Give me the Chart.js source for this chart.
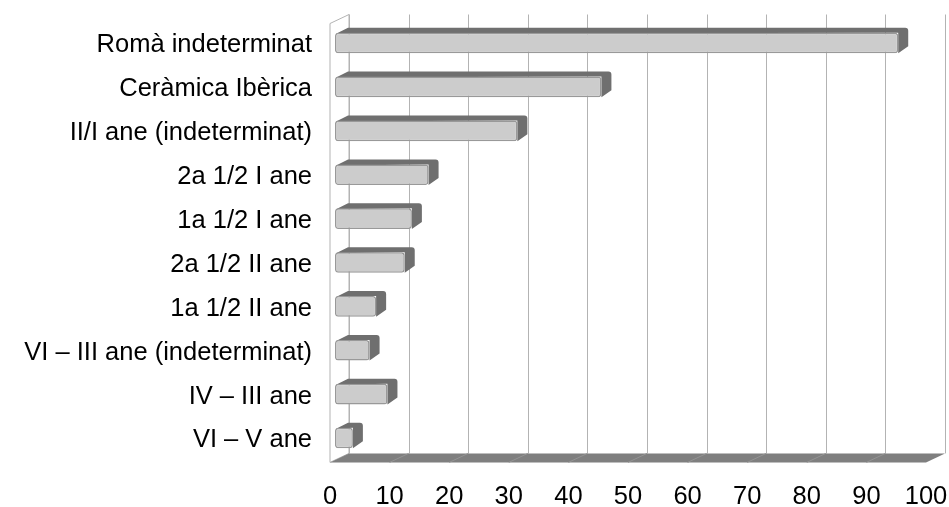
<!DOCTYPE html>
<html>
<head>
<meta charset="utf-8">
<script src="https://cdn.jsdelivr.net/npm/chart.js@4"></script>
<style>
  html, body { margin: 0; padding: 0; background: #ffffff; }
  #wrap { width: 949px; height: 507px; }
</style>
</head>
<body>
<div id="wrap"><canvas id="grafic" width="949" height="507"></canvas></div>
<script>
const categories = [
    'Romà indeterminat',
    'Ceràmica Ibèrica',
    'II/I ane (indeterminat)',
    '2a 1/2 I ane',
    '1a 1/2 I ane',
    '2a 1/2 II ane',
    '1a 1/2 II ane',
    'VI – III ane (indeterminat)',
    'IV – III ane',
    'VI – V ane'
];
const values = [94.5, 44.7, 30.6, 15.7, 12.9, 11.7, 6.9, 5.8, 8.8, 3.0];
const axisMin = 0;
const axisMax = 100;
const axisStep = 10;

// profunditat del pseudo 3D
const depthX = 19, depthY = -9;     // paret del fons respecte del pla frontal
const barFront = [5, -2.4];         // cara frontal de la barra
const barDepth = [10, -5];          // gruix de la barra

const pseudo3d = {
    id: 'pseudo3d',
    beforeDatasetsDraw(chart) {
        const ctx = chart.ctx;
        const a = chart.chartArea;
        const xs = chart.scales.x;
        ctx.save();

        // paret esquerra
        ctx.beginPath();
        ctx.moveTo(a.left, a.bottom);
        ctx.lineTo(a.left, a.top);
        ctx.lineTo(a.left + depthX, a.top + depthY);
        ctx.lineTo(a.left + depthX, a.bottom + depthY);
        ctx.closePath();
        ctx.fillStyle = '#ffffff';
        ctx.fill();
        ctx.strokeStyle = '#b3b3b3';
        ctx.lineWidth = 1;
        ctx.stroke();

        // graella al fons
        for (let v = axisMin; v <= axisMax; v += axisStep) {
            const px = Math.round(xs.getPixelForValue(v) + depthX) + 0.5;
            ctx.beginPath();
            ctx.moveTo(px, a.top + depthY);
            ctx.lineTo(px, a.bottom + depthY);
            ctx.strokeStyle = '#b3b3b3';
            ctx.stroke();
        }

        // terra
        ctx.beginPath();
        ctx.moveTo(a.left, a.bottom);
        ctx.lineTo(a.right, a.bottom);
        ctx.lineTo(a.right + depthX, a.bottom + depthY);
        ctx.lineTo(a.left + depthX, a.bottom + depthY);
        ctx.closePath();
        ctx.fillStyle = '#7f7f7f';
        ctx.fill();
        for (let v = axisMin + axisStep; v < axisMax; v += axisStep) {
            const px = xs.getPixelForValue(v);
            ctx.beginPath();
            ctx.moveTo(px + depthX, a.bottom + depthY);
            ctx.lineTo(px, a.bottom);
            ctx.strokeStyle = '#939393';
            ctx.stroke();
        }

        // cares de dalt i laterals de les barres
        ctx.translate(barFront[0], barFront[1]);
        const meta = chart.getDatasetMeta(0);
        meta.data.forEach(function(el) {
            const p = el.getProps(['x', 'y', 'base', 'height'], true);
            const x0 = p.base, x1 = p.x;
            const yt = p.y - p.height / 2, yb = p.y + p.height / 2;
            ctx.fillStyle = '#6f6f6f';
            ctx.beginPath();
            ctx.moveTo(x0 + 1, yt + 1);
            ctx.lineTo(x0 + 3 + barDepth[0], yt + barDepth[1]);
            ctx.lineTo(x1 + barDepth[0] - 3, yt + barDepth[1]);
            ctx.quadraticCurveTo(x1 + barDepth[0], yt + barDepth[1], x1 + barDepth[0], yt + barDepth[1] + 3);
            ctx.lineTo(x1 + barDepth[0], yb + barDepth[1] - 2);
            ctx.lineTo(x1, yb);
            ctx.lineTo(x1, yt);
            ctx.closePath();
            ctx.fill();
        });
    },
    afterDatasetsDraw(chart) {
        chart.ctx.restore();
    }
};

const config = {
    type: 'bar',
    data: {
        labels: categories,
        datasets: [{
            data: values,
            backgroundColor: '#cccccc',
            borderColor: '#999999',
            borderWidth: 1.5,
            borderRadius: 3,
            borderSkipped: false,
            categoryPercentage: 1,
            barPercentage: 0.47
        }]
    },
    options: {
        indexAxis: 'y',
        responsive: false,
        animation: false,
        layout: {
            padding: { top: 23.5, right: 23, left: 0, bottom: 0 }
        },
        scales: {
            x: {
                min: axisMin,
                max: axisMax,
                ticks: {
                    stepSize: axisStep,
                    color: '#000000',
                    padding: 19,
                    maxRotation: 0,
                    font: { family: 'Liberation Sans', size: 25.5 }
                },
                grid: { display: false, drawTicks: false },
                border: { display: false },
                afterFit: function(scale) {
                    scale.height = 44.6;
                    scale.paddingLeft = 0;
                    scale.paddingRight = 0;
                }
            },
            y: {
                ticks: {
                    color: '#000000',
                    padding: 18,
                    autoSkip: false,
                    font: { family: 'Liberation Sans', size: 25.5 }
                },
                grid: { display: false, drawTicks: false },
                border: { display: false },
                afterFit: function(scale) {
                    scale.width = 330;
                    scale.paddingTop = 0;
                    scale.paddingBottom = 0;
                }
            }
        },
        plugins: {
            legend: { display: false },
            tooltip: { enabled: false }
        }
    },
    plugins: [pseudo3d]
};

new Chart(document.getElementById('grafic').getContext('2d'), config);
</script>
</body>
</html>
